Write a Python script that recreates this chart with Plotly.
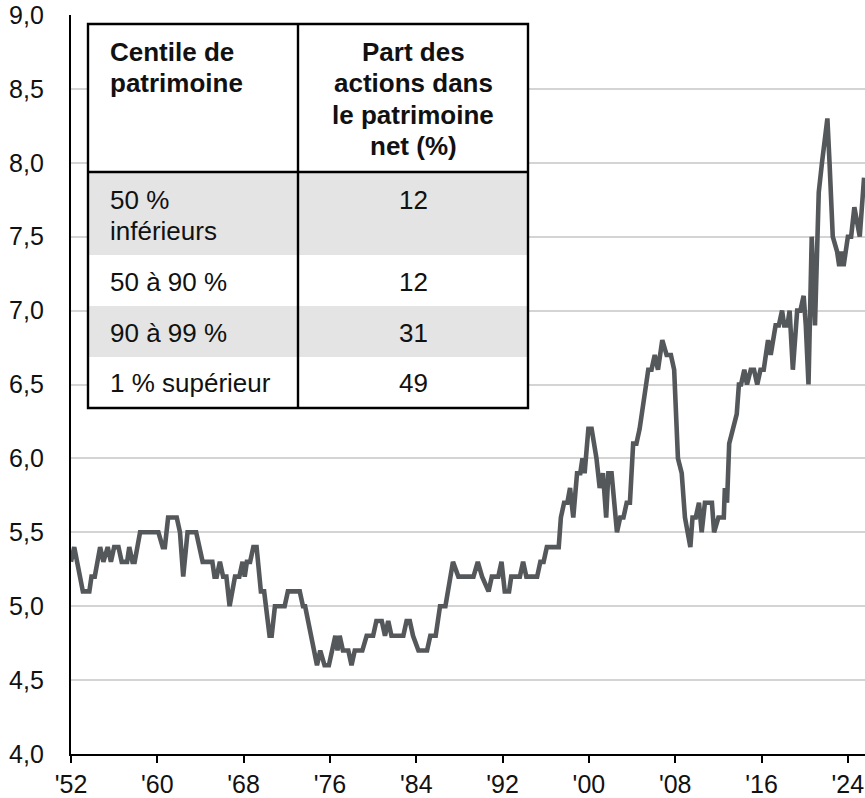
import plotly.graph_objects as go

# ---- data ----
years = [1952.0, 1952.3, 1953.1, 1953.7, 1953.9, 1954.2, 1954.7, 1955.0, 1955.4, 1955.7,
         1956.0, 1956.4, 1956.7, 1957.2, 1957.4, 1957.7, 1957.9, 1958.4, 1960.1, 1960.5,
         1960.7, 1961.0, 1961.8, 1962.1, 1962.4, 1962.8, 1963.6, 1963.9, 1964.2, 1965.1,
         1965.3, 1965.5, 1965.8, 1966.1, 1966.4, 1966.7, 1967.2, 1967.6, 1967.9, 1968.1,
         1968.3, 1968.6, 1968.9, 1969.2, 1969.6, 1969.9, 1970.4, 1970.6, 1970.9, 1971.8,
         1972.1, 1973.2, 1973.5, 1973.7, 1974.8, 1975.1, 1975.5, 1975.9, 1976.5, 1976.7,
         1976.9, 1977.2, 1977.7, 1978.0, 1978.3, 1979.0, 1979.4, 1980.0, 1980.3, 1980.8,
         1981.1, 1981.4, 1981.7, 1982.8, 1983.1, 1983.4, 1983.7, 1984.2, 1985.0, 1985.3,
         1985.8, 1986.2, 1986.7, 1987.4, 1987.9, 1989.3, 1989.7, 1990.1, 1990.7, 1991.0,
         1991.6, 1991.9, 1992.2, 1992.6, 1992.8, 1993.6, 1993.9, 1994.2, 1995.2, 1995.5,
         1995.8, 1996.1, 1997.2, 1997.4, 1997.7, 1998.0, 1998.25, 1998.55, 1998.9, 1999.2,
         1999.4, 1999.6, 1999.95, 2000.25, 2000.7, 2001.0, 2001.3, 2001.6, 2001.8, 2002.1,
         2002.6, 2002.9, 2003.2, 2003.5, 2003.8, 2004.1, 2004.4, 2004.7, 2005.5, 2005.8,
         2006.1, 2006.4, 2006.8, 2007.2, 2007.6, 2007.9, 2008.25, 2008.6, 2008.9, 2009.4,
         2009.6, 2009.9, 2010.2, 2010.45, 2010.75, 2011.4, 2011.6, 2012.0, 2012.5, 2012.6,
         2012.8, 2013.0, 2013.3, 2013.7, 2013.9, 2014.1, 2014.4, 2014.65, 2015.0, 2015.3,
         2015.6, 2015.9, 2016.2, 2016.6, 2016.85, 2017.3, 2017.6, 2017.9, 2018.1, 2018.4,
         2018.6, 2018.9, 2019.3, 2019.6, 2019.9, 2020.1, 2020.35, 2020.65, 2020.95, 2021.3,
         2021.6, 2021.9, 2022.1, 2022.3, 2022.6, 2023.0, 2023.2, 2023.4, 2023.6, 2024.0,
         2024.3, 2024.6, 2024.8, 2025.1, 2025.5]
values = [5.3, 5.4, 5.1, 5.1, 5.2, 5.2, 5.4, 5.3, 5.4, 5.3,
          5.4, 5.4, 5.3, 5.3, 5.4, 5.3, 5.3, 5.5, 5.5, 5.4,
          5.4, 5.6, 5.6, 5.5, 5.2, 5.5, 5.5, 5.4, 5.3, 5.3,
          5.2, 5.2, 5.3, 5.2, 5.2, 5.0, 5.2, 5.2, 5.3, 5.2,
          5.3, 5.3, 5.4, 5.4, 5.1, 5.1, 4.8, 4.8, 5.0, 5.0,
          5.1, 5.1, 5.0, 5.0, 4.6, 4.7, 4.6, 4.6, 4.8, 4.7,
          4.8, 4.7, 4.7, 4.6, 4.7, 4.7, 4.8, 4.8, 4.9, 4.9,
          4.8, 4.9, 4.8, 4.8, 4.9, 4.9, 4.8, 4.7, 4.7, 4.8,
          4.8, 5.0, 5.0, 5.3, 5.2, 5.2, 5.3, 5.2, 5.1, 5.2,
          5.2, 5.3, 5.1, 5.1, 5.2, 5.2, 5.3, 5.2, 5.2, 5.3,
          5.3, 5.4, 5.4, 5.6, 5.7, 5.7, 5.8, 5.6, 5.9, 5.9,
          6.0, 5.9, 6.2, 6.2, 6.0, 5.8, 5.9, 5.6, 5.9, 5.9,
          5.5, 5.6, 5.6, 5.7, 5.7, 6.1, 6.1, 6.2, 6.6, 6.6,
          6.7, 6.6, 6.8, 6.7, 6.7, 6.6, 6.0, 5.9, 5.6, 5.4,
          5.6, 5.6, 5.7, 5.5, 5.7, 5.7, 5.5, 5.6, 5.6, 5.8,
          5.7, 6.1, 6.2, 6.3, 6.5, 6.5, 6.6, 6.5, 6.6, 6.6,
          6.5, 6.6, 6.6, 6.8, 6.7, 6.9, 6.9, 7.0, 6.9, 6.9,
          7.0, 6.6, 7.0, 7.0, 7.1, 6.9, 6.5, 7.5, 6.9, 7.8,
          8.0, 8.2, 8.3, 8.0, 7.5, 7.4, 7.3, 7.4, 7.3, 7.5,
          7.5, 7.7, 7.6, 7.5, 7.9]

x_tick_vals = [1952, 1960, 1968, 1976, 1984, 1992, 2000, 2008, 2016, 2024]
x_tick_text = ["'52", "'60", "'68", "'76", "'84", "'92", "'00", "'08", "'16", "'24"]
y_tick_vals = [4.0, 4.5, 5.0, 5.5, 6.0, 6.5, 7.0, 7.5, 8.0, 8.5, 9.0]

table_header_col1 = ["Centile de", "patrimoine"]
table_header_col2 = ["Part des", "actions dans", "le patrimoine", "net (%)"]
table_groups = [["50 %", "inférieurs"], ["50 à 90 %"], ["90 à 99 %"], ["1 % supérieur"]]
table_shares = ["12", "12", "31", "49"]

# ---- layout geometry (pixels) ----
W, H = 865, 798
L, R, T, B = 71, 0, 15, 44
PW, PH = W - L - R, H - T - B
FONT = "Liberation Sans, Arial, Helvetica, sans-serif"


def px(x):
    return (x - L) / PW


def py(y):
    return (H - B - y) / PH


fig = go.Figure()
fig.add_trace(go.Scatter(x=years, y=values, mode="lines",
                         line=dict(color="#55585b", width=4.6),
                         hoverinfo="skip", showlegend=False))

shapes = []
annotations = []

# table geometry
tx0, tx1, tsplit = 88, 528, 298
ty0, ty_head, ty1 = 24, 172, 408
row_bounds = [(172, 255), (255, 306), (306, 357), (357, 408)]
row_fill = ["#e3e4e3", "white", "#e3e4e3", "white"]

shapes.append(dict(type="rect", xref="paper", yref="paper", layer="above",
                   x0=px(tx0), x1=px(tx1), y0=py(ty1), y1=py(ty0),
                   fillcolor="white", line=dict(width=0)))
for (r0, r1), fc in zip(row_bounds, row_fill):
    shapes.append(dict(type="rect", xref="paper", yref="paper", layer="above",
                       x0=px(tx0), x1=px(tx1), y0=py(r1), y1=py(r0),
                       fillcolor=fc, line=dict(width=0)))
shapes.append(dict(type="line", xref="paper", yref="paper", layer="above",
                   x0=px(tsplit), x1=px(tsplit), y0=py(ty1), y1=py(ty0),
                   line=dict(color="black", width=2.4)))
shapes.append(dict(type="line", xref="paper", yref="paper", layer="above",
                   x0=px(tx0), x1=px(tx1), y0=py(ty_head), y1=py(ty_head),
                   line=dict(color="black", width=2.4)))
shapes.append(dict(type="rect", xref="paper", yref="paper", layer="above",
                   x0=px(tx0), x1=px(tx1), y0=py(ty1), y1=py(ty0),
                   fillcolor="rgba(0,0,0,0)", line=dict(color="black", width=2.4)))

FS = 26
LINE = 31.5
text_left = 107.5
col2_center = (tsplit + tx1) / 2


def add_text(txt, x, baseline, anchor, bold=False):
    annotations.append(dict(
        text=f"<b>{txt}</b>" if bold else txt, xref="paper", yref="paper",
        x=px(x), y=py(baseline - 0.3465 * FS), xanchor=anchor, yanchor="middle",
        showarrow=False, font=dict(family=FONT, size=FS, color="#111111")))


for i, t in enumerate(table_header_col1):
    add_text(t, text_left, 61 + i * LINE, "left", bold=True)
for i, t in enumerate(table_header_col2):
    add_text(t, col2_center, 61 + i * LINE, "center", bold=True)

row_baselines = [209.5, 291.5, 342.5, 392]
for lines, share, base in zip(table_groups, table_shares, row_baselines):
    for i, t in enumerate(lines):
        add_text(t, text_left, base + i * 30.5, "left")
    add_text(share, col2_center, base, "center")

fig.update_layout(
    width=W, height=H,
    margin=dict(l=L, r=R, t=T, b=B, pad=0, autoexpand=False),
    paper_bgcolor="white", plot_bgcolor="white",
    separators=", ",
    font=dict(family=FONT, size=25, color="#111111"),
    shapes=shapes, annotations=annotations,
    xaxis=dict(range=[1952, 1952 + PW / 10.79], tickvals=x_tick_vals, ticktext=x_tick_text,
               showgrid=False, zeroline=False, showline=True, linecolor="black", linewidth=2.4,
               ticks="outside", ticklen=7, tickwidth=2, tickcolor="black",
               tickfont=dict(family=FONT, size=25, color="#111111")),
    yaxis=dict(range=[4.0, 9.0], tickvals=y_tick_vals, tickformat=".1f",
               showgrid=True, gridcolor="#d4d4d4", gridwidth=1.5, zeroline=False,
               showline=True, linecolor="black", linewidth=2.4, ticks="",
               ticklabelstandoff=20,
               tickfont=dict(family=FONT, size=25, color="#111111")),
)

fig.write_html("out.html", config={"displayModeBar": False},
               post_script="document.body.style.margin='0';document.body.style.overflow='hidden';")
